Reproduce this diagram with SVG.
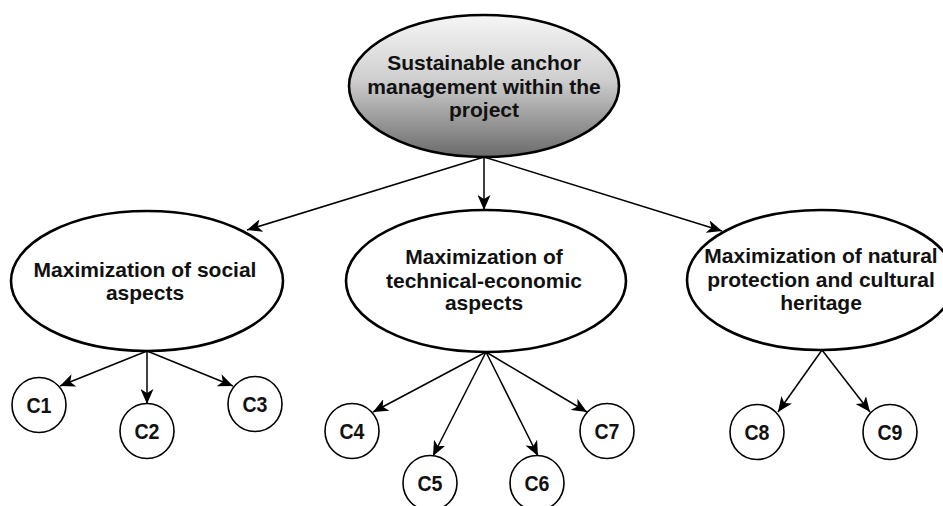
<svg xmlns="http://www.w3.org/2000/svg" width="943" height="506" viewBox="0 0 943 506">
<style>
.big{fill:#fff;stroke:#000;stroke-width:2.6}
.small{fill:#fff;stroke:#000;stroke-width:1.6}
.t{font-family:"Liberation Sans",Arial,sans-serif;font-weight:bold;font-size:21px;fill:#111;text-anchor:middle}
.c{font-family:"Liberation Sans",Arial,sans-serif;font-weight:bold;font-size:22px;fill:#111;text-anchor:middle}
.e{stroke:#000;stroke-width:1.5;fill:none;marker-end:url(#ah)}
</style>
<defs>
<linearGradient id="g" x1="0" y1="0" x2="0" y2="1">
<stop offset="0" stop-color="#f6f6f6"/>
<stop offset="0.45" stop-color="#cfcfcf"/>
<stop offset="1" stop-color="#6a6a6a"/>
</linearGradient>
<marker id="ah" markerUnits="userSpaceOnUse" markerWidth="17" markerHeight="13" refX="15" refY="6.5" orient="auto" viewBox="0 0 17 13">
<path d="M0,0 L15,6.5 L0,13 L4,6.5 z" fill="#000"/>
</marker>
</defs>
<rect width="943" height="506" fill="#fff"/>
<g id="connectors">
<line class="e" x1="484" y1="157" x2="247" y2="230"/>
<line class="e" x1="484" y1="157" x2="484" y2="210"/>
<line class="e" x1="484" y1="157" x2="722" y2="231"/>
<line class="e" x1="147" y1="351" x2="60" y2="386"/>
<line class="e" x1="147" y1="351" x2="147" y2="404"/>
<line class="e" x1="147" y1="351" x2="233" y2="386"/>
<line class="e" x1="486" y1="352" x2="373" y2="412"/>
<line class="e" x1="486" y1="352" x2="433" y2="456"/>
<line class="e" x1="486" y1="352" x2="538" y2="456"/>
<line class="e" x1="486" y1="352" x2="587" y2="412"/>
<line class="e" x1="822" y1="350" x2="778" y2="412"/>
<line class="e" x1="822" y1="350" x2="870" y2="412"/>
</g>
<g id="root">
<ellipse cx="484" cy="86" rx="135" ry="71" fill="url(#g)" stroke="#000" stroke-width="2.6"/>
<text class="t" x="484" y="70">Sustainable anchor</text>
<text class="t" x="484" y="94">management within the</text>
<text class="t" x="484" y="117">project</text>
</g>
<g id="social">
<ellipse class="big" cx="147" cy="281" rx="136" ry="70"/>
<text class="t" x="145" y="277">Maximization of social</text>
<text class="t" x="145" y="300">aspects</text>
</g>
<g id="technical">
<ellipse class="big" cx="486" cy="281" rx="140" ry="71"/>
<text class="t" x="484" y="264">Maximization of</text>
<text class="t" x="484" y="288">technical-economic</text>
<text class="t" x="484" y="310">aspects</text>
</g>
<g id="natural">
<ellipse class="big" cx="821" cy="280" rx="134" ry="70"/>
<text class="t" x="821" y="263">Maximization of natural</text>
<text class="t" x="821" y="287">protection and cultural</text>
<text class="t" x="821" y="310">heritage</text>
</g>
<g id="c1"><ellipse class="small" cx="39" cy="405" rx="27" ry="27.5"/><text class="c" x="39" y="413" textLength="25" lengthAdjust="spacingAndGlyphs">C1</text></g>
<g id="c2"><ellipse class="small" cx="147" cy="431" rx="27" ry="27.5"/><text class="c" x="147" y="439" textLength="25" lengthAdjust="spacingAndGlyphs">C2</text></g>
<g id="c3"><ellipse class="small" cx="255" cy="404" rx="27" ry="27.5"/><text class="c" x="255" y="412" textLength="25" lengthAdjust="spacingAndGlyphs">C3</text></g>
<g id="c4"><ellipse class="small" cx="352" cy="431" rx="27" ry="27.5"/><text class="c" x="352" y="439" textLength="25" lengthAdjust="spacingAndGlyphs">C4</text></g>
<g id="c5"><ellipse class="small" cx="430" cy="483" rx="27" ry="27.5"/><text class="c" x="430" y="491" textLength="25" lengthAdjust="spacingAndGlyphs">C5</text></g>
<g id="c6"><ellipse class="small" cx="537" cy="483" rx="27" ry="27.5"/><text class="c" x="537" y="491" textLength="25" lengthAdjust="spacingAndGlyphs">C6</text></g>
<g id="c7"><ellipse class="small" cx="607" cy="431" rx="27" ry="27.5"/><text class="c" x="607" y="439" textLength="25" lengthAdjust="spacingAndGlyphs">C7</text></g>
<g id="c8"><ellipse class="small" cx="757" cy="432" rx="27" ry="27.5"/><text class="c" x="757" y="440" textLength="25" lengthAdjust="spacingAndGlyphs">C8</text></g>
<g id="c9"><ellipse class="small" cx="890" cy="432" rx="27" ry="27.5"/><text class="c" x="890" y="440" textLength="25" lengthAdjust="spacingAndGlyphs">C9</text></g>
</svg>
